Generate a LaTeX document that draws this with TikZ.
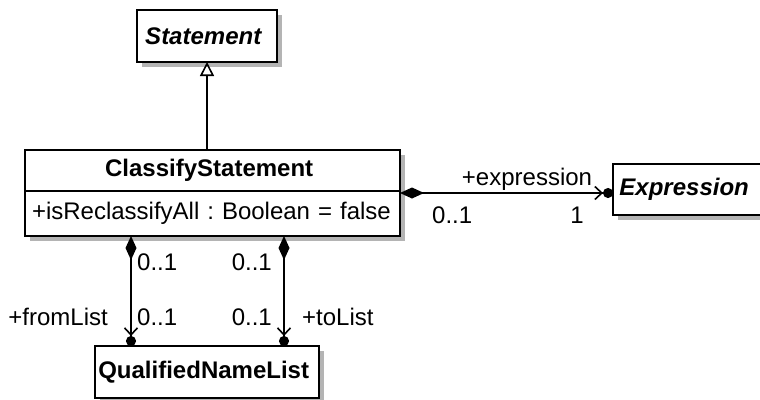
\documentclass[tikz,border=0pt]{standalone}
\usepackage{fontspec}
\setmainfont{Liberation Sans}
\usetikzlibrary{
    positioning,
    arrows.meta,
    shadows
}
\definecolor{Preto}{HTML}{000000}
\definecolor{Branco}{HTML}{FFFFFF}
\definecolor{CinzaSombra}{HTML}{B4B4B4}
\frenchspacing

\begin{document}
\begin{tikzpicture}[
                x=1pt, y=-1pt,
                every node/.style={align=center, font=\fontsize{24}{28}\selectfont},
                classe/.style={
                    draw=Preto,
                    fill=Branco,
                    line width=1.6pt,
                    inner sep=0pt,
                    outer sep=0pt,
                    drop shadow={shadow xshift=5pt, shadow yshift=-5pt,
                        fill=CinzaSombra, opacity=1}
                },
                rotulo/.style={inner sep=0pt, text=Preto},
                composicao/.style={
                    line width=1.6pt,
                    {Diamond[length=24pt, width=11pt]}-{Straight Barb[length=7pt, width=13pt] Circle[length=10pt]}
                }
            ]

                \useasboundingbox (0,0) rectangle (760,399);


                \node[
                    classe,
                    minimum width=140pt,
                    minimum height=52pt
                ] (statement) at (207,36) {
                    \textbf{\textit{Statement}}
                };


                \node[
                    classe,
                    minimum width=375pt,
                    minimum height=41pt
                ] (classname) at (212.5,170.5) {
                    \textbf{ClassifyStatement}
                };

                \node[
                    classe,
                    below=0pt of classname,
                    minimum width=375pt,
                    minimum height=45pt,
                    text width=361pt,
                    align=left
                ] (classattr) {
                    +isReclassifyAll : Boolean = false
                };


                \node[
                    classe,
                    minimum width=149pt,
                    minimum height=51pt
                ] (expression) at (687.5,189.5) {
                    \textbf{\textit{Expression}}
                };


                \node[
                    classe,
                    minimum width=224pt,
                    minimum height=52pt
                ] (namelist) at (207,372) {
                    \textbf{QualifiedNameList}
                };


                % pontos de ligacao
                \coordinate (assoc) at ([yshift=-2pt]classattr.north east);
                \coordinate (fromx) at ([xshift=36pt]namelist.north west);
                \coordinate (tox) at ([xshift=-35pt]namelist.north east);


                \draw[-{Triangle[open, length=14pt, width=14pt]}, line width=1.6pt, fill=Branco]
                    (classname.north -| statement.south) -- (statement.south);

                \draw[composicao]
                    (assoc) -- (expression.west |- assoc);

                \draw[composicao]
                    (classattr.south -| fromx) -- (fromx);

                \draw[composicao]
                    (classattr.south -| tox) -- (tox);


                \node[rotulo, anchor=base] (lblexpr) at (527,185) {+expression};
                \node[rotulo, anchor=base west] (multexpra) at (432,223) {0..1};
                \node[rotulo, anchor=base] (multexprb) at (577,223) {1};

                \node[rotulo, anchor=base west] (multfroma) at (137,270) {0..1};
                \node[rotulo, anchor=base east] (multtoa) at (272,270) {0..1};

                \node[rotulo, anchor=base east] (lblfrom) at (108,325) {+fromList};
                \node[rotulo, anchor=base west] (multfromb) at (137,325) {0..1};
                \node[rotulo, anchor=base east] (multtob) at (272,325) {0..1};
                \node[rotulo, anchor=base west] (lblto) at (302,325) {+toList};

            \end{tikzpicture}
\end{document}
